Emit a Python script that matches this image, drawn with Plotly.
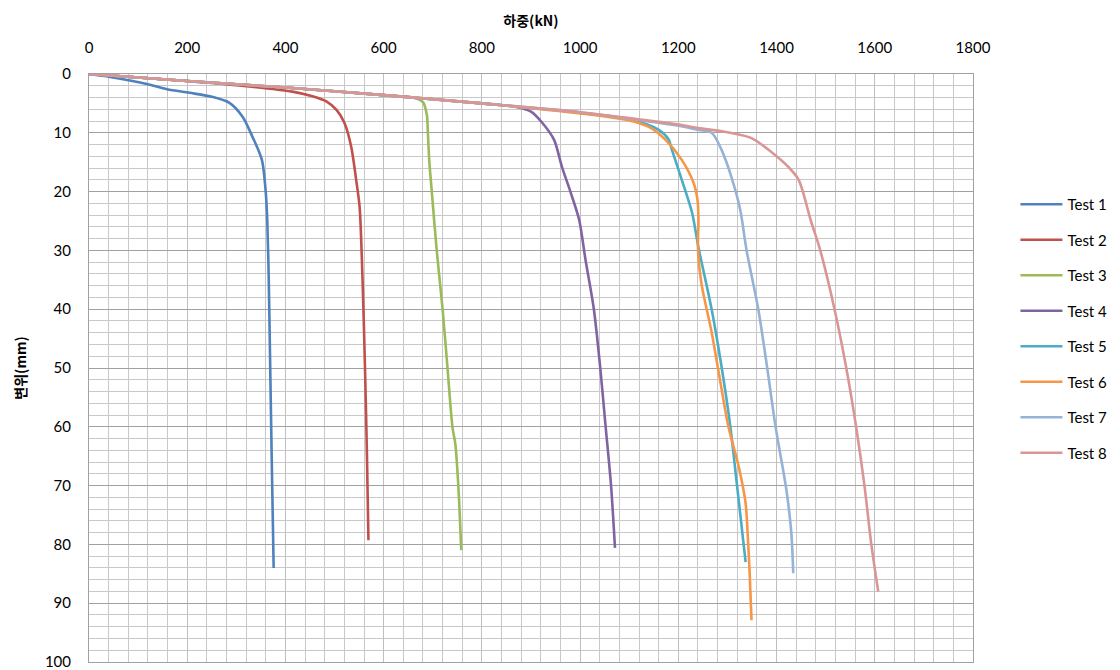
import plotly.graph_objects as go

names = ["Test 1", "Test 2", "Test 3", "Test 4", "Test 5", "Test 6", "Test 7", "Test 8"]
colors = ["#4F81BD", "#C0504D", "#9BBB59", "#8064A2", "#4BACC6", "#F79646", "#95B3D7", "#D99694"]

# load (kN)
load_1 = [0, 43, 118, 159, 205, 252, 286, 313, 333, 352, 360, 363, 366, 369, 372, 376]
disp_1 = [0, 0.5, 1.7, 2.6, 3.2, 3.9, 4.9, 7.3, 10.7, 14.6, 20.2, 25, 35, 50, 65, 84]

load_2 = [0, 100, 200, 300, 414, 455, 484, 504, 520, 534, 544, 551, 557, 562, 566, 569]
disp_2 = [0, 0.6, 1.2, 1.9, 3.0, 3.8, 4.7, 6.1, 8.3, 12.4, 18, 22.6, 35, 50, 65, 79.3]

load_3 = [0, 200, 400, 600, 660, 680, 688, 690, 693, 698, 708, 720, 730, 740, 746, 752, 758]
disp_3 = [0, 1.2, 2.3, 3.6, 4.0, 4.8, 7, 10, 15, 20, 30, 40, 50, 60, 63, 70, 81]

load_4 = [0, 200, 400, 600, 800, 870, 900, 922, 947, 963, 981, 998, 1011, 1028, 1041, 1052, 1063, 1071]
disp_4 = [0, 1.2, 2.3, 3.6, 5.0, 5.6, 6.4, 8.2, 11.2, 15.8, 20.2, 24.8, 31.6, 40, 50, 60, 70, 80.6]

load_5 = [0, 200, 400, 600, 800, 1000, 1105, 1160, 1180, 1187, 1207, 1228, 1241, 1268, 1288, 1306, 1319, 1337]
disp_5 = [0, 1.2, 2.3, 3.6, 5.0, 6.6, 7.8, 9.5, 11.1, 12.9, 18, 23.6, 29.5, 40.1, 49.8, 60, 69.6, 83]

load_6 = [0, 200, 400, 600, 800, 1000, 1100, 1140, 1174, 1207, 1231, 1239, 1241, 1240, 1247, 1268, 1286, 1302, 1323, 1337, 1341, 1345, 1349]
disp_6 = [0, 1.2, 2.3, 3.6, 5.0, 6.7, 7.9, 9, 11.2, 14.6, 18.5, 21.4, 24.8, 29.9, 35.6, 44, 52.6, 60, 66.8, 73, 78, 84.4, 92.9]

load_7 = [0, 200, 400, 600, 800, 1000, 1100, 1200, 1241, 1268, 1288, 1308, 1326, 1339, 1363, 1381, 1398, 1420, 1430, 1434]
disp_7 = [0, 1.2, 2.3, 3.6, 5.0, 6.5, 7.6, 8.8, 9.5, 10, 12.9, 17.5, 23.1, 30, 40.1, 50, 60, 70.7, 78, 84.9]

load_8 = [0, 200, 400, 600, 800, 1000, 1100, 1200, 1241, 1300, 1349, 1390, 1424, 1445, 1470, 1489, 1518, 1542, 1562, 1579, 1593, 1607]
disp_8 = [0, 1.2, 2.3, 3.6, 5.0, 6.5, 7.5, 8.6, 9.2, 9.9, 10.9, 13.3, 15.8, 18, 25, 30, 40, 50, 60, 70, 80, 88]

loads = [load_1, load_2, load_3, load_4, load_5, load_6, load_7, load_8]
disps = [disp_1, disp_2, disp_3, disp_4, disp_5, disp_6, disp_7, disp_8]

fig = go.Figure()
for i, (n, c, x, y) in enumerate(zip(names, colors, loads, disps)):
    fig.add_trace(go.Scatter(
        x=x, y=y, mode="lines", name=n, legendgroup=n,
        line=dict(color=c, width=2.6, shape="spline", smoothing=0.8),
    ))

font_main = "Lato, 'Noto Sans CJK KR', sans-serif"
title_font = dict(family="'Noto Sans CJK KR', sans-serif", size=14, color="#000000")

fig.update_layout(
    width=1120, height=670,
    margin=dict(l=89, r=145, t=74, b=8),
    paper_bgcolor="white", plot_bgcolor="white",
    font=dict(family=font_main, size=15, color="#000000"),
    showlegend=True,
    legend=dict(
        x=1.048, xanchor="left", y=0.806, yanchor="top",
        tracegroupgap=13, itemwidth=42, font=dict(size=15, family=font_main),
        bgcolor="rgba(0,0,0,0)",
    ),
    xaxis=dict(
        side="top", range=[0, 1800], dtick=200, tick0=0, automargin=False,
        showgrid=True, gridcolor="#BFBFBF", gridwidth=1,
        minor=dict(dtick=40, showgrid=True, gridcolor="#C8C8C8", gridwidth=1),
        showline=True, linecolor="#A0A0A0", linewidth=1, mirror=True,
        ticks="", ticklabelstandoff=14, zeroline=False, ticklabeloverflow="allow",
        title=dict(text="<b>하중(kN)</b>", font=title_font, standoff=8),
    ),
    yaxis=dict(
        range=[100, 0], dtick=10, tick0=0, automargin=False,
        showgrid=True, gridcolor="#A0A0A0", gridwidth=1,
        minor=dict(dtick=2, showgrid=True, gridcolor="#C8C8C8", gridwidth=1),
        showline=True, linecolor="#A0A0A0", linewidth=1, mirror=True,
        ticks="", ticklabelstandoff=14, zeroline=False, ticklabeloverflow="allow",
        title=dict(text="<b>변위(mm)</b>", font=title_font, standoff=14),
    ),
)

fig.write_html("out.html")
